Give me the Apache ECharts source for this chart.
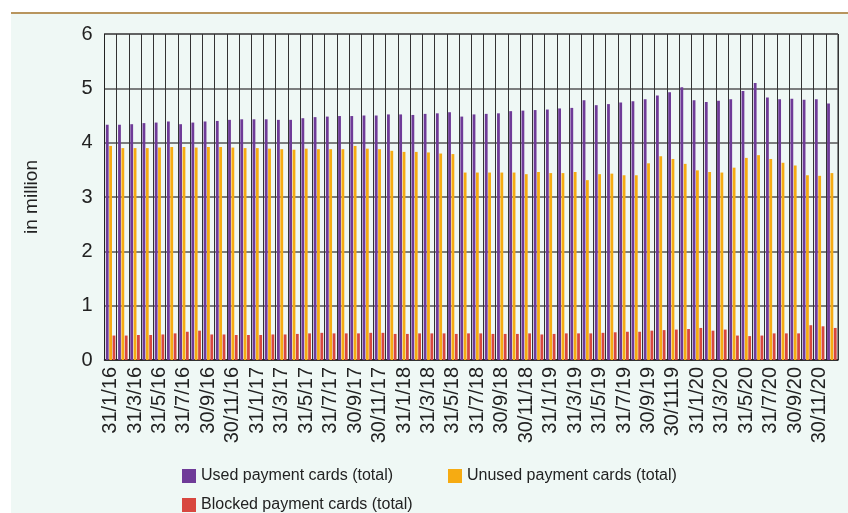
<!DOCTYPE html>
<html>
<head>
<meta charset="utf-8">
<title>Payment cards</title>
<script src="https://cdn.jsdelivr.net/npm/echarts@6/dist/echarts.min.js"></script>
<style>
  html, body { margin: 0; padding: 0; background: #ffffff; }
  .panel {
    position: absolute; left: 11px; top: 12px; width: 837px; height: 499px;
    background: #eff8f5; border-top: 2px solid #b8955e;
  }
  #chart { position: absolute; left: 0; top: 0; width: 848px; height: 513px; }
</style>
</head>
<body>
<div class="panel"></div>
<div id="chart"></div>
<script>
// month-end dates, Jan 2016 - Dec 2020 (label typo for Nov 2019 kept as printed)
const months = [
  '31/1/16', '29/2/16', '31/3/16', '30/4/16', '31/5/16', '30/6/16', '31/7/16', '31/8/16', '30/9/16', '31/10/16', '30/11/16', '31/12/16',
  '31/1/17', '28/2/17', '31/3/17', '30/4/17', '31/5/17', '30/6/17', '31/7/17', '31/8/17', '30/9/17', '31/10/17', '30/11/17', '31/12/17',
  '31/1/18', '28/2/18', '31/3/18', '30/4/18', '31/5/18', '30/6/18', '31/7/18', '31/8/18', '30/9/18', '31/10/18', '30/11/18', '31/12/18',
  '31/1/19', '28/2/19', '31/3/19', '30/4/19', '31/5/19', '30/6/19', '31/7/19', '31/8/19', '30/9/19', '31/10/19', '30/1119', '31/12/19',
  '31/1/20', '29/2/20', '31/3/20', '30/4/20', '31/5/20', '30/6/20', '31/7/20', '31/8/20', '30/9/20', '31/10/20', '30/11/20', '31/12/20'
]

// in million
const usedCards = [
  4.33, 4.33, 4.34, 4.36, 4.37, 4.39, 4.34, 4.37, 4.39, 4.40, 4.42, 4.43,
  4.43, 4.43, 4.42, 4.42, 4.45, 4.47, 4.48, 4.49, 4.49, 4.50, 4.50, 4.52,
  4.52, 4.51, 4.53, 4.54, 4.56, 4.48, 4.52, 4.53, 4.54, 4.58, 4.59, 4.60,
  4.61, 4.63, 4.64, 4.78, 4.69, 4.71, 4.74, 4.76, 4.80, 4.87, 4.93, 5.02,
  4.78, 4.75, 4.77, 4.80, 4.95, 5.10, 4.83, 4.80, 4.81, 4.79, 4.80, 4.72
]
const unusedCards = [
  3.94, 3.90, 3.90, 3.90, 3.91, 3.92, 3.92, 3.91, 3.92, 3.92, 3.91, 3.90,
  3.90, 3.89, 3.88, 3.87, 3.89, 3.88, 3.88, 3.88, 3.94, 3.89, 3.88, 3.85,
  3.83, 3.83, 3.82, 3.80, 3.79, 3.45, 3.45, 3.45, 3.45, 3.45, 3.42, 3.46,
  3.44, 3.44, 3.46, 3.31, 3.42, 3.43, 3.40, 3.40, 3.62, 3.75, 3.70, 3.61,
  3.49, 3.46, 3.45, 3.54, 3.72, 3.77, 3.70, 3.63, 3.58, 3.40, 3.39, 3.44
]
const blockedCards = [
  0.45, 0.45, 0.46, 0.46, 0.47, 0.49, 0.52, 0.54, 0.47, 0.47, 0.46, 0.46,
  0.46, 0.47, 0.47, 0.48, 0.49, 0.50, 0.49, 0.49, 0.49, 0.50, 0.50, 0.48,
  0.48, 0.49, 0.49, 0.49, 0.48, 0.49, 0.49, 0.48, 0.48, 0.48, 0.49, 0.47,
  0.48, 0.49, 0.49, 0.49, 0.50, 0.51, 0.52, 0.52, 0.54, 0.55, 0.56, 0.57,
  0.59, 0.54, 0.56, 0.45, 0.44, 0.45, 0.49, 0.49, 0.49, 0.64, 0.62, 0.59
]

const font = "'Liberation Sans', Arial, sans-serif"
const names = ['Used payment cards (total)', 'Unused payment cards (total)', 'Blocked payment cards (total)']
const colors = ['#6f3b98', '#f6ab12', '#d8473f']

const legendText = { fontFamily: font, fontSize: 16, color: '#222' }

const chart = echarts.init(document.getElementById('chart'))
chart.setOption({
  animation: false,
  backgroundColor: 'transparent',
  color: colors,
  grid: {
    left: 104.5, right: 10, top: 34, bottom: 153,
    show: true, borderColor: '#222', borderWidth: 1, backgroundColor: 'transparent'
  },
  legend: [
    { data: [names[0]], left: 177, top: 463, icon: 'rect', itemWidth: 14, itemHeight: 14, selectedMode: false, textStyle: legendText },
    { data: [names[1]], left: 443, top: 463, icon: 'rect', itemWidth: 14, itemHeight: 14, selectedMode: false, textStyle: legendText },
    { data: [names[2]], left: 177, top: 492, icon: 'rect', itemWidth: 14, itemHeight: 14, selectedMode: false, textStyle: legendText }
  ],
  xAxis: {
    type: 'category',
    data: months,
    boundaryGap: true,
    axisLine: { lineStyle: { color: '#222', width: 1.5 } },
    axisTick: { show: false },
    axisLabel: {
      interval: 1, rotate: 90, margin: 7,
      fontFamily: font, fontSize: 20, color: '#222'
    },
    splitLine: { show: true, interval: 0, lineStyle: { color: '#333', width: 1 } }
  },
  yAxis: {
    type: 'value',
    min: 0, max: 6, interval: 1,
    name: 'in million',
    nameLocation: 'middle',
    nameRotate: 90,
    nameGap: 63,
    nameTextStyle: { fontFamily: font, fontSize: 19, color: '#222' },
    axisLine: { show: true, lineStyle: { color: '#222', width: 1 } },
    axisTick: { show: false },
    axisLabel: { margin: 12, fontFamily: font, fontSize: 20, color: '#222' },
    splitLine: { lineStyle: { color: '#555', width: 1.5 } }
  },
  series: [
    { name: names[0], type: 'bar', data: usedCards, barWidth: 2.8, barGap: '20%' },
    { name: names[1], type: 'bar', data: unusedCards, barWidth: 2.8, barGap: '20%' },
    { name: names[2], type: 'bar', data: blockedCards, barWidth: 2.8, barGap: '20%' }
  ]
})
</script>
</body>
</html>
